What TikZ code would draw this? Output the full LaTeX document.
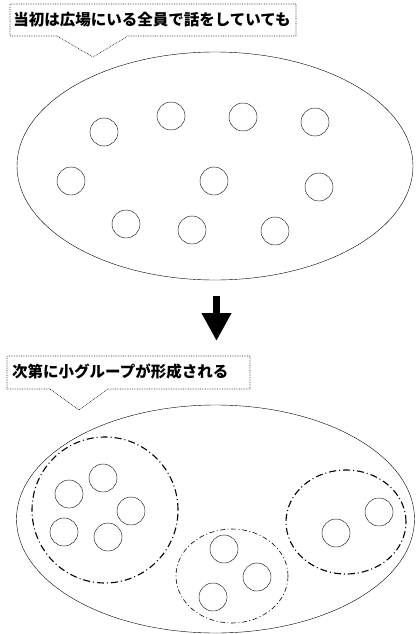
\documentclass[tikz,border=0pt]{standalone}
\usepackage{fontspec}
\newfontfamily\jpfont{Noto Sans CJK JP}
\usepackage{tikz}
\usetikzlibrary{shapes.geometric,arrows.meta}

\tikzset{
	persona/.style={circle, draw, thin, minimum size=28pt, inner sep=0pt},
	piazza/.style={ellipse, draw, thin, inner sep=0pt},
	gruppo/.style={draw, line width=1.1pt, dash pattern=on 7pt off 3pt on 1pt off 3pt},
	gruppino/.style={draw, line width=0.6pt, dash pattern=on 5pt off 2.5pt on 1pt off 2.5pt},
	fumetto/.style={draw=black!85, densely dotted, line width=0.7pt},
	testo/.style={font=\jpfont\bfseries\fontsize{15.5}{18}\selectfont, inner sep=0pt}
}

\begin{document}
\begin{tikzpicture}[x=1pt,y=-1pt]
	\useasboundingbox (0,0) rectangle (415,634);

	% primo fumetto
	\node[testo] (t1) at (152,20) {当初は広場にいる全員で話をしていても};
	\draw[fumetto] (57,36) -- (10,36) -- (10,4) -- (296,4) -- (296,36) -- (128,36) -- (93,57) -- cycle;

	% piazza con tutti
	\node[piazza, minimum width=396pt, minimum height=228pt] (p1) at (215,166) {};
	\node[persona] (a1) at (104,132) {};
	\node[persona] (a2) at (171,116) {};
	\node[persona] (a3) at (243,117) {};
	\node[persona] (a4) at (315,122) {};
	\node[persona] (a5) at (71,181) {};
	\node[persona] (a6) at (214,181) {};
	\node[persona] (a7) at (319,187) {};
	\node[persona] (a8) at (126,224) {};
	\node[persona] (a9) at (192,230) {};
	\node[persona] (a10) at (275,231) {};

	% freccia
	\coordinate (f1) at (216.5,296);
	\coordinate (f2) at (216.5,341);
	\draw[line width=7pt, -{Triangle[width=28pt, length=28pt]}] (f1) -- (f2);

	% secondo fumetto
	\node[testo, anchor=west] (t2) at (12,372) {次第に小グループが形成される};
	\draw[fumetto] (50,389) -- (7,389) -- (7,356) -- (250,356) -- (250,389) -- (108,389) -- (79,410) -- cycle;

	% piazza con i gruppi
	\node[piazza, minimum width=398pt, minimum height=228pt] (p2) at (215.5,519) {};

	\node[gruppo, circle, minimum size=146pt, inner sep=0pt] (g1) at (105,510) {};
	\node[persona] (b1) at (103,478) {};
	\node[persona] (b2) at (69,494) {};
	\node[persona] (b3) at (131,511) {};
	\node[persona] (b4) at (64,532) {};
	\node[persona] (b5) at (108,537) {};

	\node[gruppino, ellipse, minimum width=112pt, minimum height=94pt, inner sep=0pt] (g2) at (232,576) {};
	\node[persona] (c1) at (224,549) {};
	\node[persona] (c2) at (257,577) {};
	\node[persona] (c3) at (213,597) {};

	\node[gruppo, ellipse, minimum width=120pt, minimum height=104pt, inner sep=0pt] (g3) at (346,522) {};
	\node[persona] (d1) at (336,533) {};
	\node[persona] (d2) at (379,512) {};
\end{tikzpicture}
\end{document}
